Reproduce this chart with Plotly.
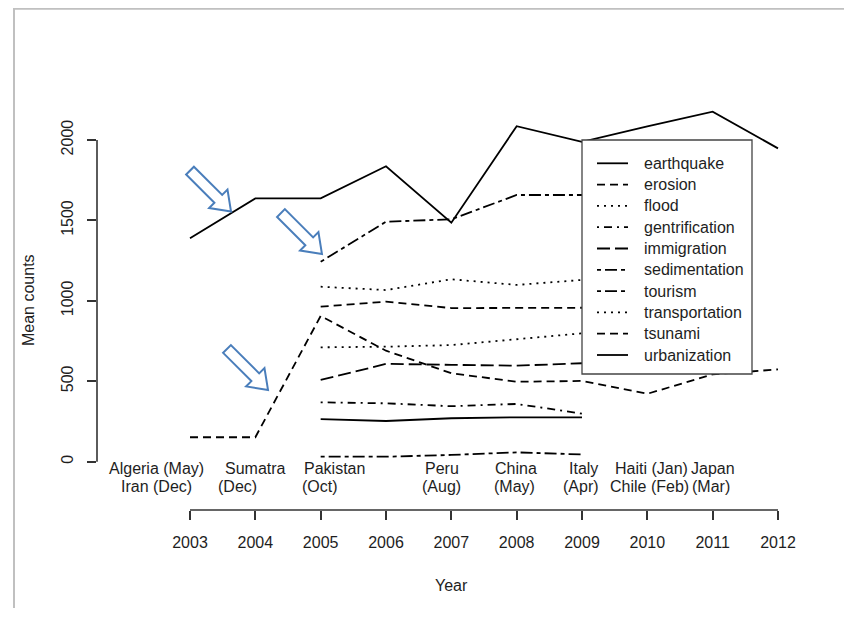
import math
import plotly.graph_objects as go

# ---------------- data ----------------
years = [2003, 2004, 2005, 2006, 2007, 2008, 2009, 2010, 2011, 2012]
years_sub = [2005, 2006, 2007, 2008, 2009]

earthquake = [1389, 1637, 1637, 1837, 1486, 2086, 1989, 2085, 2176, 1948]
tsunami = [152, 152, 906, 690, 550, 497, 502, 422, 543, 574]

erosion = [964, 995, 955, 958, 957]
flood = [1088, 1067, 1134, 1099, 1130]
gentrification = [369, 363, 345, 359, 299]
immigration = [508, 608, 602, 597, 612]
sedimentation = [31, 31, 42, 58, 45]
tourism = [1243, 1492, 1507, 1658, 1658]
transportation = [711, 715, 725, 761, 798]
urbanization = [265, 253, 270, 276, 276]

y_ticks = [0, 500, 1000, 1500, 2000]

event_lines = [
    ("Algeria (May)", 2002.48, 1), ("Iran (Dec)", 2002.49, 2),
    ("Sumatra", 2004.00, 1), ("(Dec)", 2003.73, 2),
    ("Pakistan", 2005.21, 1), ("(Oct)", 2004.99, 2),
    ("Peru", 2006.86, 1), ("(Aug)", 2006.85, 2),
    ("China", 2007.99, 1), ("(May)", 2007.97, 2),
    ("Italy", 2009.02, 1), ("(Apr)", 2008.99, 2),
    ("Haiti (Jan)", 2010.06, 1), ("Chile (Feb)", 2010.03, 2),
    ("Japan", 2011.00, 1), ("(Mar)", 2010.97, 2),
]

# arrow tips (year, value)
arrow_tips = [(2003.628, 1555), (2005.020, 1291), (2004.194, 446)]

# ---------------- geometry (reference screenshot pixels, page offset 8px) ----------------
OFF = 8
W, H = 840, 600
L = 97 - OFF
T = 60 - OFF
B = H - (510 - OFF)
R = W - (820 - OFF)
PW, PH = W - L - R, H - T - B
X0PX, X1PX = 190.0 - OFF, 778.0 - OFF          # pixel of 2003 / 2012
Y0PX, Y2000PX = 461.7 - OFF, 140.0 - OFF       # pixel of 0 / 2000
ppy = (X1PX - X0PX) / 9.0
ppu = (Y0PX - Y2000PX) / 2000.0
xr = [2003 - (X0PX - L) / ppy, 2003 + (W - R - X0PX) / ppy]
yr = [-(H - B - Y0PX) / ppu, (Y0PX - T) / ppu]


def pxp(x):
    """reference screenshot x pixel -> paper"""
    return (x - OFF - L) / PW


def pyp(y):
    """reference screenshot y pixel -> paper"""
    return (H - B - (y - OFF)) / PH


def year_to_paper(yv):
    return (X0PX + (yv - 2003) * ppy - L) / PW


def val_to_paper(v):
    return (H - B - (Y0PX - v * ppu)) / PH


FONT = "Arial, Liberation Sans, sans-serif"
TXT = "#1e1e1e"
LW = 1.8

DASHED = "8px,5px"
DOTTED = "2px,5px"
DOTDASH = "2px,5px,8px,5px"
LONGDASH = "13px,5px"
TWODASH = "4px,4px,12px,4px"

series = [
    ("earthquake", years, earthquake, "solid"),
    ("erosion", years_sub, erosion, DASHED),
    ("flood", years_sub, flood, DOTTED),
    ("gentrification", years_sub, gentrification, DOTDASH),
    ("immigration", years_sub, immigration, LONGDASH),
    ("sedimentation", years_sub, sedimentation, TWODASH),
    ("tourism", years_sub, tourism, TWODASH),
    ("transportation", years_sub, transportation, DOTTED),
    ("tsunami", years, tsunami, DASHED),
    ("urbanization", years_sub, urbanization, "solid"),
]

fig = go.Figure()
for name, xs, ys, dash in series:
    fig.add_trace(go.Scatter(
        x=xs, y=ys, mode="lines", name=name, showlegend=False,
        line=dict(color="black", width=LW, dash=dash),
    ))

shapes = []
# screenshot frame
shapes.append(dict(type="rect", xref="paper", yref="paper",
                   x0=pxp(14), x1=pxp(845), y0=pyp(640), y1=pyp(8.8),
                   line=dict(color="#c0c0c0", width=2), layer="below"))
# axis lines
shapes.append(dict(type="line", xref="paper", yref="paper",
                   x0=year_to_paper(2003), x1=year_to_paper(2012), y0=0, y1=0,
                   line=dict(color="#333", width=1.6)))
shapes.append(dict(type="line", xref="paper", yref="paper",
                   x0=0, x1=0, y0=val_to_paper(0), y1=val_to_paper(2000),
                   line=dict(color="#333", width=1.6)))

# hollow block arrows pointing down-right
Lr, sw, hw, hl = 58, 11, 26, 18
local = [(0, 0), (-hl, hw / 2), (-hl, sw / 2), (-Lr, sw / 2),
         (-Lr, -sw / 2), (-hl, -sw / 2), (-hl, -hw / 2)]
c = s = math.sqrt(0.5)
pts = []
for u, v in local:
    dx = u * c - v * s
    dy_screen = u * s + v * c
    pts.append((dx, -dy_screen))
path = "M " + " L ".join(f"{a:.2f},{b:.2f}" for a, b in pts) + " Z"
for ax_, ay_ in arrow_tips:
    shapes.append(dict(type="path", xref="x", yref="y",
                       xsizemode="pixel", ysizemode="pixel",
                       xanchor=ax_, yanchor=ay_, path=path,
                       line=dict(color="#4a7ebb", width=2),
                       fillcolor="white"))

annotations = []

# legend box (drawn manually to match R's legend geometry)
LEG_L, LEG_R, LEG_T, LEG_B = 582, 752, 140, 374
ROW0, ROWSTEP = 163.3, 21.3
SAMPLE_X0, SAMPLE_X1, TEXT_X = 597, 628, 641.5
shapes.append(dict(type="rect", xref="paper", yref="paper",
                   x0=pxp(LEG_L), x1=pxp(LEG_R), y0=pyp(LEG_B), y1=pyp(LEG_T),
                   line=dict(color="#444", width=1.3), fillcolor="white"))
for i, (name, _, _, dash) in enumerate(series):
    yrow = ROW0 + i * ROWSTEP
    shapes.append(dict(type="line", xref="paper", yref="paper",
                       x0=pxp(SAMPLE_X0), x1=pxp(SAMPLE_X1),
                       y0=pyp(yrow), y1=pyp(yrow),
                       line=dict(color="black", width=LW, dash=dash)))
    annotations.append(dict(text=name, x=pxp(TEXT_X), y=pyp(yrow), xref="paper",
                            yref="paper", showarrow=False, xanchor="left",
                            yanchor="middle",
                            font=dict(family=FONT, size=16, color=TXT)))

row_y = {1: 468.5, 2: 486.5}
for text, xv, row in event_lines:
    annotations.append(dict(text=text, x=xv, xref="x", y=pyp(row_y[row]),
                            yref="paper", showarrow=False, xanchor="center",
                            yanchor="middle", font=dict(family=FONT, size=16, color=TXT)))
annotations.append(dict(text="Mean counts", x=pxp(28), y=pyp(300), xref="paper",
                        yref="paper", showarrow=False, textangle=-90,
                        xanchor="center", yanchor="middle",
                        font=dict(family=FONT, size=16, color=TXT)))
annotations.append(dict(text="Year", x=pxp(451), y=pyp(585), xref="paper",
                        yref="paper", showarrow=False, xanchor="center",
                        yanchor="middle", font=dict(family=FONT, size=16, color=TXT)))

fig.update_layout(
    width=W, height=H,
    margin=dict(l=L, r=R, t=T, b=B, pad=0),
    paper_bgcolor="white", plot_bgcolor="white",
    font=dict(family=FONT, size=16, color=TXT),
    showlegend=False,
    xaxis=dict(range=xr, tickvals=years, ticks="outside", ticklen=9,
               tickwidth=1.5, tickcolor="#333", showline=False,
               showgrid=False, zeroline=False, ticklabelstandoff=9,
               tickfont=dict(family=FONT, size=16, color=TXT)),
    yaxis=dict(range=yr, tickvals=y_ticks, ticks="outside", ticklen=9,
               tickwidth=1.5, tickcolor="#333", showline=False,
               showgrid=False, zeroline=False, tickangle=-90,
               ticklabelstandoff=8,
               tickfont=dict(family=FONT, size=16, color=TXT)),
    shapes=shapes,
    annotations=annotations,
)

fig.write_html("out.html")
